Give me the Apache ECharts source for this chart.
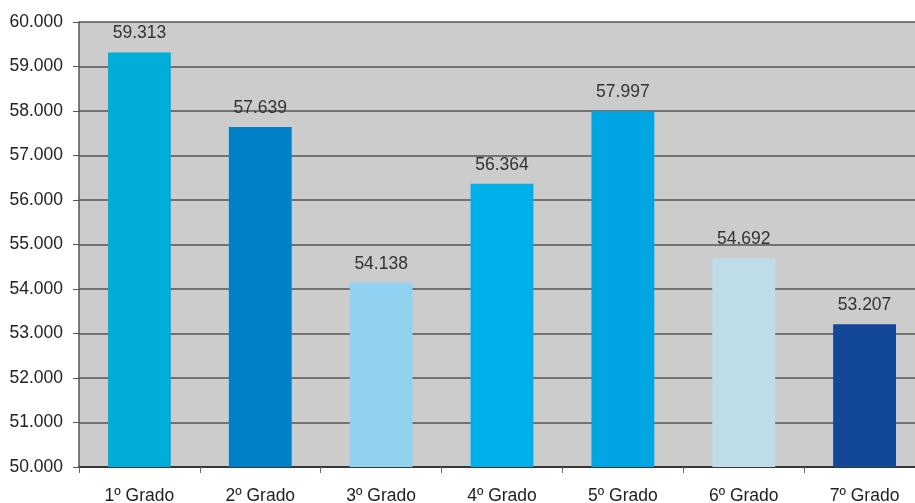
<!DOCTYPE html>
<html><head><meta charset="utf-8">
<script src="https://cdn.jsdelivr.net/npm/echarts@6/dist/echarts.min.js"></script>
<style>html,body{margin:0;padding:0;background:#fff;overflow:hidden}#c{width:915px;height:503px}</style>
</head><body><div id="c"></div>
<script>
const categories = ['1º Grado','2º Grado','3º Grado','4º Grado','5º Grado','6º Grado','7º Grado'];
const values = [59313, 57639, 54138, 56364, 57997, 54692, 53207];
const barColors = ['#00AED9','#0080C6','#91D2F0','#00B0EA','#00A5E3','#BFDDE8','#134899'];
const yMin = 50000, yMax = 60000, yStep = 1000;
const fmt = v => (v/1000).toFixed(3);
const chart = echarts.init(document.getElementById('c'));
chart.setOption({
  animation:false,
  grid:{left:79,width:846,top:22,bottom:36,show:true,backgroundColor:'#CCCCCC',borderWidth:0,outerBoundsMode:'none',containLabel:false},
  xAxis:{type:'category',data:categories,
    axisLine:{lineStyle:{color:'#222',width:1.5}},
    axisTick:{show:true,alignWithLabel:false,length:6,lineStyle:{color:'#666'}},
    axisLabel:{color:'#222',fontFamily:'Liberation Sans',fontSize:17.5,margin:20}},
  yAxis:{type:'value',min:yMin,max:yMax,interval:yStep,
    axisLine:{show:true,lineStyle:{color:'#555',width:1.5}},
    axisTick:{show:true,length:6,lineStyle:{color:'#555'}},
    splitLine:{lineStyle:{color:'#555',width:1.5}},
    axisLabel:{color:'#222',fontFamily:'Liberation Sans',fontSize:17.5,margin:16,formatter:fmt}},
  series:[{type:'bar',barCategoryGap:'48%',
    data:values.map((v,i)=>({value:v,itemStyle:{color:barColors[i]}})),
    label:{show:true,position:'top',distance:10,color:'#333',fontFamily:'Liberation Sans',fontSize:17.5,formatter:p=>fmt(p.value)}}]
});
</script></body></html>
